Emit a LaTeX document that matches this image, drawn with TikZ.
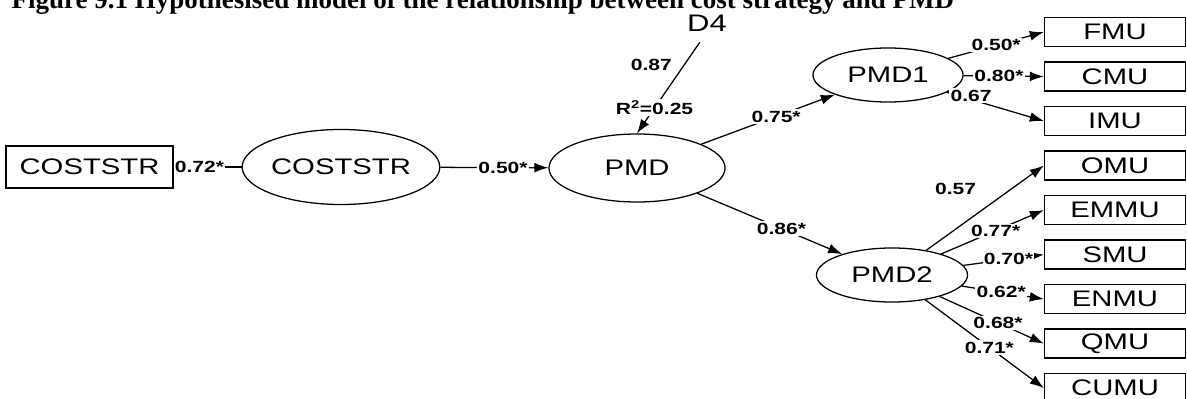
\documentclass[tikz,border=0pt]{standalone}
\usepackage{fontspec}
\setmainfont{Liberation Serif}
\newfontfamily\amosfont[FakeStretch=1.3]{Liberation Sans}
\usetikzlibrary{arrows.meta,shapes.geometric,positioning}

\begin{document}
\begin{tikzpicture}[x=0.025cm,y=-0.025cm,>={Latex[length=10pt,width=7pt]},line width=0.9pt,node distance=1.1125cm,
	latent/.style={ellipse,draw,inner sep=0pt,font=\amosfont\fontsize{16}{18}\selectfont},
	obs/.style={rectangle,draw,inner sep=0pt,minimum width=3.525cm,minimum height=0.725cm,font=\amosfont\fontsize{16}{18}\selectfont},
	lbl/.style={fill=white,inner sep=1pt,font=\amosfont\bfseries\fontsize{11.5}{13}\selectfont}]

\useasboundingbox (0,0) rectangle (1187,399);

\node[anchor=base west,inner sep=0pt,font=\bfseries\fontsize{19.2}{22}\selectfont]   (title) at (11,9)	{Figure 9.1 Hypothesised model of the relationship between cost strategy and PMD};

\node[obs,minimum width=4.175cm,minimum height=1.05cm]   (costobs) at (89.5,167)	{COSTSTR};
\node[latent,minimum width=4.15cm,minimum height=1.875cm]   (cost) at (341,167)	{COSTSTR};
\node[latent,minimum width=4.4cm,minimum height=1.7cm]   (pmd) at (637,168)	{PMD};
\node[latent,minimum width=3.75cm,minimum height=1.35cm]   (pmd1) at (888,75)	{PMD1};
\node[latent,minimum width=3.775cm,minimum height=1.35cm]   (pmd2) at (892,275)	{PMD2};
\node[inner sep=0pt,font=\amosfont\fontsize{17}{19}\selectfont]   (d4) at (707,23)	{D4};

\node[obs]   (fmu) at (1115,32)	{FMU};
\node[obs]   (cmu)[below of=fmu]	{CMU};
\node[obs]   (imu)[below of=cmu]	{IMU};
\node[obs]   (omu)[below of=imu]	{OMU};
\node[obs]   (emmu)[below of=omu]	{EMMU};
\node[obs]   (smu)[below of=emmu]	{SMU};
\node[obs]   (enmu)[below of=smu]	{ENMU};
\node[obs]   (qmu)[below of=enmu]	{QMU};
\node[obs]   (cumu)[below of=qmu]	{CUMU};

	\path[->] (cost)  edge[-{Latex[length=6pt,width=5pt]}]	node[lbl,pos=0.62]{0.72*}	(costobs)
						edge	node[lbl,pos=0.58]{0.50*}	(pmd)
				(d4.south)  edge[shorten <=9pt]	node[lbl,pos=0.75]{R\textsuperscript{2}=0.25}
								node[lbl,pos=0.33,left=0.25cm]{0.87}	(pmd.north)
				(pmd)  edge	node[lbl,pos=0.56]{0.75*}	(pmd1)
						edge	node[lbl,pos=0.58]{0.86*}	(pmd2)
				(pmd1)  edge	node[lbl,pos=0.5]{0.50*}	(fmu.west)
						edge	node[lbl,pos=0.44]{0.80*}	(cmu.west)
						edge	node[lbl,pos=0.25,yshift=0.1cm]{0.67}	(imu.west)
				(pmd2)  edge	node[lbl,pos=0.25,above=0.8cm]{0.57}	(omu.west)
						edge	node[lbl,pos=0.53]{0.77*}	(emmu.west)
						edge	node[lbl,pos=0.56]{0.70*}	(smu.west)
						edge	node[lbl,pos=0.48]{0.62*}	(enmu.west)
						edge	node[lbl,pos=0.56]{0.68*}	(qmu.west)
						edge	node[lbl,pos=0.54]{0.71*}	(cumu.west);
\end{tikzpicture}
\end{document}
